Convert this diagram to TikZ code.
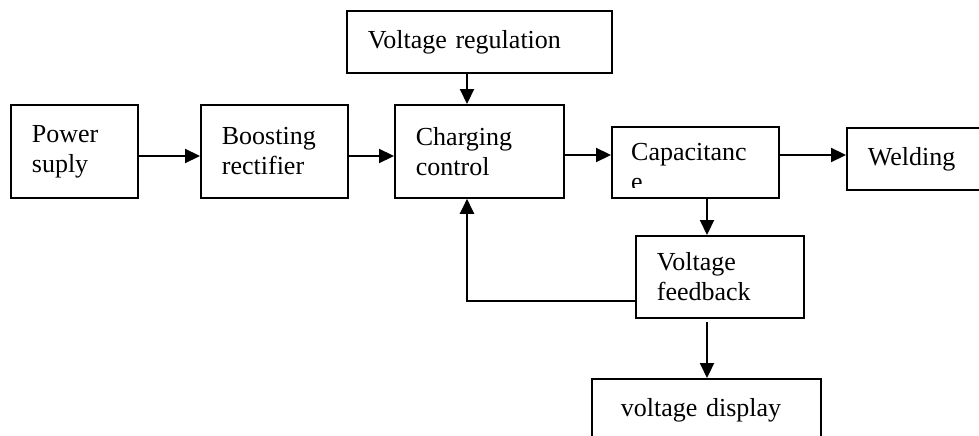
\documentclass[tikz,border=0pt]{standalone}
\usepackage{fontspec}
\setmainfont{Liberation Serif}
\usetikzlibrary{arrows.meta}

\begin{document}
\begin{tikzpicture}[x=1pt, y=-1pt,
    blk/.style={draw, line width=1.8pt, anchor=north west, inner xsep=21pt, inner ysep=0pt,
        align=left, font=\fontsize{26}{30}\selectfont},
    arr/.style={line width=2.2pt, -{Triangle[length=15pt,width=14pt]}}]
    \clip (0,0) rectangle (979,436);

    \node[blk, text width=85pt, minimum height=93pt] (pow) at (10,104) {Power\\suply};
    \node[blk, text width=105pt, minimum height=93pt] (boost) at (200,104) {Boosting\\rectifier};
    \node[blk, text width=127pt, minimum height=93pt] (chg) at (394,104) {Charging\\control};
    \node[blk, text width=223pt, minimum height=62pt] (reg) at (346,10) {Voltage regulation};
    \node[blk, text width=125pt, minimum height=71pt] (cap) at (611,126) {};
    \node[blk, text width=108pt, minimum height=62pt] (weld) at (846,127) {Welding};
    \node[blk, text width=126pt, minimum height=82pt] (fb) at (635,235) {Voltage\\feedback};
    \node[blk, inner xsep=29pt, text width=171pt, minimum height=62pt] (disp) at (591,378) {voltage display};

    \begin{scope}
        \clip (cap.north west) rectangle ([yshift=11pt]cap.south east);
        \node[anchor=north west, inner sep=0pt, align=left, font=\fontsize{26}{30}\selectfont]
            (captxt) at (631,143) {Capacitanc\\e};
    \end{scope}

    \coordinate (row) at (0,156);
    \coordinate (row2) at (0,155);
    \coordinate (lx) at (467,0);
    \coordinate (rx) at (707,0);
    \coordinate (fby) at (0,301);

    \draw[arr] (pow.east |- row) -- (boost.west |- row);
    \draw[arr] (boost.east |- row) -- (chg.west |- row);
    \draw[arr] (chg.east |- row2) -- (cap.west |- row2);
    \draw[arr] (cap.east |- row2) -- (weld.west |- row2);
    \draw[arr] (reg.south -| lx) -- (chg.north -| lx);
    \draw[arr] (fb.west |- fby) -| (chg.south -| lx);
    \draw[arr] (cap.south -| rx) -- (fb.north -| rx);
    \draw[arr] ([yshift=-3pt]fb.south -| rx) -- (disp.north -| rx);
\end{tikzpicture}
\end{document}
